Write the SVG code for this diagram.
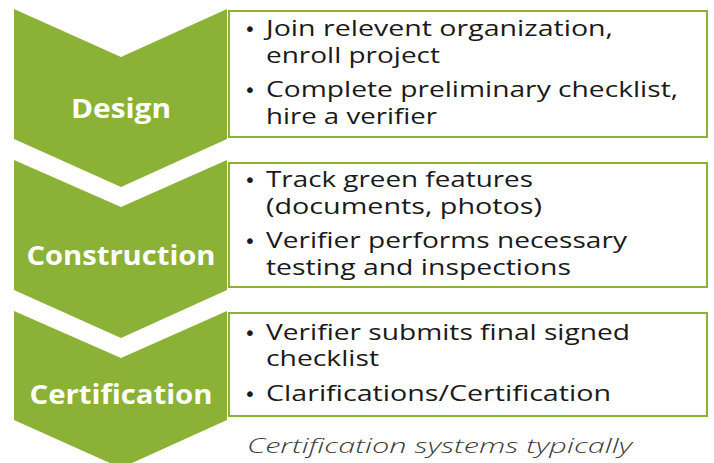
<svg xmlns="http://www.w3.org/2000/svg" width="714" height="463" viewBox="0 0 714 463">
<style>
.chev{fill:#8BB236;}
.box{fill:#ffffff;stroke:#8BB236;stroke-width:2;}
.lbl{font-family:"Open Sans","DejaVu Sans",sans-serif;font-weight:700;font-size:26px;fill:#ffffff;text-anchor:middle;}
.txt{font-family:"Open Sans","DejaVu Sans",sans-serif;font-size:21px;fill:#1a1a1a;}
.bul{font-family:"DejaVu Sans",sans-serif;font-size:20px;fill:#1a1a1a;}
.note{font-family:"Open Sans","DejaVu Sans",sans-serif;font-style:italic;font-weight:300;font-size:21px;fill:#3c3c3c;}
</style>
<rect width="714" height="463" fill="#ffffff"/>
<g id="stage-design">
<polygon class="chev" points="14,9 121,57 227,9 227,139 121,187 14,139"/>
<text class="lbl" x="121" y="118" textLength="100" lengthAdjust="spacingAndGlyphs">Design</text>
</g>
<g id="stage-construction">
<polygon class="chev" points="14,160 121,207 227,160 227,290 121,338 14,290"/>
<text class="lbl" x="121" y="265" textLength="189" lengthAdjust="spacingAndGlyphs">Construction</text>
</g>
<g id="stage-certification">
<polygon class="chev" points="14,311 121,358 227,311 227,420 121,468 14,420"/>
<text class="lbl" x="121" y="404" textLength="183" lengthAdjust="spacingAndGlyphs">Certification</text>
</g>
<g id="box-design">
<rect class="box" x="229" y="11" width="478" height="126"/>
<text class="bul" x="244" y="36">•</text>
<text class="txt" x="266" y="36" textLength="347" lengthAdjust="spacingAndGlyphs">Join relevent organization,</text>
<text class="txt" x="266" y="63" textLength="174" lengthAdjust="spacingAndGlyphs">enroll project</text>
<text class="bul" x="244" y="97">•</text>
<text class="txt" x="266" y="97" textLength="412" lengthAdjust="spacingAndGlyphs">Complete preliminary checklist,</text>
<text class="txt" x="266" y="124" textLength="171" lengthAdjust="spacingAndGlyphs">hire a verifier</text>
</g>
<g id="box-construction">
<rect class="box" x="229" y="163" width="478" height="124"/>
<text class="bul" x="244" y="187">•</text>
<text class="txt" x="266" y="187" textLength="267" lengthAdjust="spacingAndGlyphs">Track green features</text>
<text class="txt" x="266" y="214" textLength="276" lengthAdjust="spacingAndGlyphs">(documents, photos)</text>
<text class="bul" x="244" y="248">•</text>
<text class="txt" x="266" y="248" textLength="361" lengthAdjust="spacingAndGlyphs">Verifier performs necessary</text>
<text class="txt" x="266" y="275" textLength="305" lengthAdjust="spacingAndGlyphs">testing and inspections</text>
</g>
<g id="box-certification">
<rect class="box" x="229" y="313" width="478" height="103"/>
<text class="bul" x="244" y="340">•</text>
<text class="txt" x="266" y="340" textLength="364" lengthAdjust="spacingAndGlyphs">Verifier submits final signed</text>
<text class="txt" x="266" y="366" textLength="113" lengthAdjust="spacingAndGlyphs">checklist</text>
<text class="bul" x="244" y="401">•</text>
<text class="txt" x="266" y="401" textLength="345" lengthAdjust="spacingAndGlyphs">Clarifications/Certification</text>
</g>
<g id="note">
<text class="note" x="247" y="453" textLength="385" lengthAdjust="spacingAndGlyphs">Certification systems typically</text>
</g>
</svg>
